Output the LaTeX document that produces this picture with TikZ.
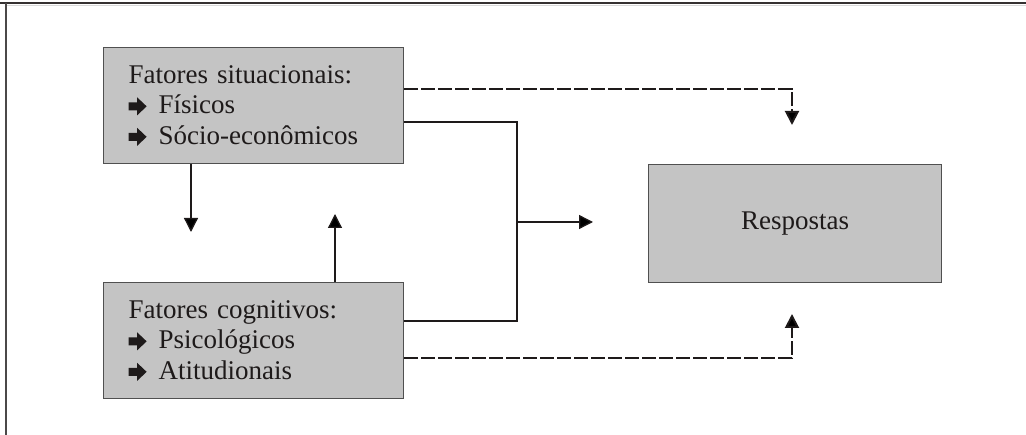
\documentclass[tikz,border=0pt]{standalone}
\usepackage{fontspec}
\setmainfont{Liberation Serif}
\usetikzlibrary{arrows.meta}

\definecolor{boxfill}{HTML}{C4C4C4}
\definecolor{boxline}{HTML}{505050}
\definecolor{ink}{HTML}{1E1A1A}

% block-arrow bullet used in the lists
\newcommand{\bul}{\raisebox{-1.5pt}{\tikz[x=1pt,y=1pt,baseline=0pt]
  \fill[ink] (0,5) -- (8.5,5) -- (8.5,0) -- (18,9) -- (8.5,18) -- (8.5,13) -- (0,13) -- cycle;}\hspace{12pt}}

\tikzset{
  factor/.style={draw=boxline, line width=1.3pt, fill=boxfill, anchor=north west,
    minimum width=294pt, minimum height=116pt, text width=250pt,
    inner xsep=25pt, inner ysep=0pt, align=left, text=ink,
    font=\fontsize{27}{30.5}\selectfont},
  result/.style={draw=boxline, line width=1.3pt, fill=boxfill, anchor=north west,
    minimum width=293pt, minimum height=118pt, text=ink,
    font=\fontsize{27}{30}\selectfont},
  link/.style={draw=ink, line width=1.3pt},
  dlink/.style={draw=ink, line width=2pt, dash pattern=on 14pt off 3pt},
  tip/.style={-{Triangle[length=14pt,width=14pt]}}
}

\begin{document}
\begin{tikzpicture}[x=1pt,y=-1pt]
  \useasboundingbox (0,0) rectangle (1026,435);

  % frame
  \draw[line width=1.8pt, draw=ink!90] (0,3) -- (1026,3);
  \draw[line width=0.6pt, draw=black!15] (7,5.5) -- (1026,5.5);
  \draw[line width=1.3pt, draw=ink!80] (6,3) -- (6,435);

  % boxes
  \node[factor] (sit) at (103,47) {Fatores situacionais:\\\bul Físicos\\\bul Sócio-econômicos};
  \node[factor] (cog) at (103,282) {Fatores cognitivos:\\\bul Psicológicos\\\bul Atitudionais};
  \node[result] (resp) at (648,164) {Respostas};

  % junction of the solid links
  \coordinate (jt) at (517,122);
  \coordinate (jb) at (517,321);
  \coordinate (jm) at (517,222);
  \coordinate (jtip) at (593,222);
  \draw[link] (sit.east |- jt) -- (jt) -- (jb) -- (cog.east |- jb);
  \draw[link, tip] (jm) -- (jtip);

  % links between the two factor boxes
  \coordinate (dtip) at (191,232);
  \coordinate (utip) at (335,214);
  \draw[link, tip] (sit.south -| dtip) -- (dtip);
  \draw[link, tip] (cog.north -| utip) -- (utip);

  % dashed links to the responses
  \coordinate (dt) at (792,89);
  \coordinate (dttip) at (792,125);
  \coordinate (db) at (792,358);
  \coordinate (dbtip) at (792,314);
  \draw[dlink, tip] (sit.east |- dt) -- (dt) -- (dttip);
  \draw[dlink, tip] (cog.east |- db) -- (db) -- (dbtip);
\end{tikzpicture}
\end{document}
